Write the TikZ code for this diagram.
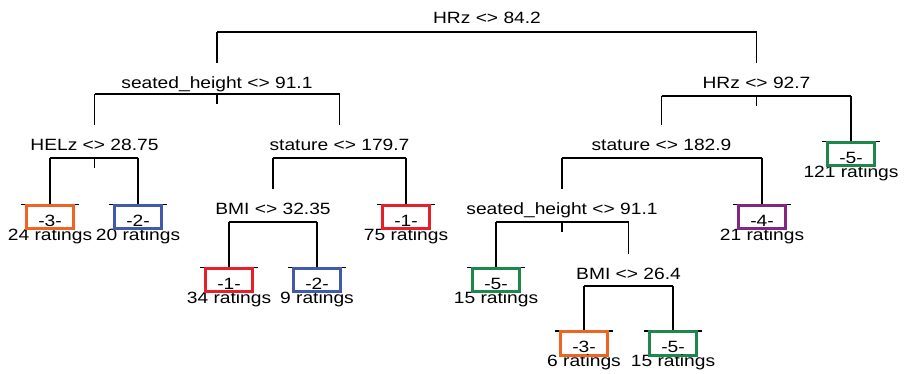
\documentclass[tikz,border=0pt]{standalone}
\usepackage{fontspec}
\setmainfont{Liberation Sans}
\definecolor{clsorange}{RGB}{240,100,35}
\definecolor{clsblue}{RGB}{65,90,170}
\definecolor{clsred}{RGB}{232,30,40}
\definecolor{clsgreen}{RGB}{30,135,75}
\definecolor{clspurple}{RGB}{130,40,130}
% text is set slightly flattened
\newcommand\squash[1]{\scalebox{1}[0.85]{#1}}
\tikzset{
  edge/.style={line width=1.2pt, line cap=butt},
  splitlabel/.style={anchor=base, inner sep=0pt, font=\fontsize{19.2}{22}\selectfont},
  leafbox/.style={draw, line width=2pt, minimum width=46pt, minimum height=22.5pt,
                  anchor=north, inner sep=0pt},
}
% leaf: name, x, tick y, class text, colour, count text
\newcommand\treeleaf[6]{%
  \coordinate (#1) at (#2,#3);
  \draw[edge] ([xshift=-29pt]#1) -- ([xshift=29pt]#1);
  \node[leafbox, draw=#5] (#1-box) at (#1) {};
  \node[splitlabel] (#1-cls) at ([yshift=-21.5pt]#1) {\squash{#4}};
  \node[splitlabel] (#1-n) at ([yshift=-35.5pt]#1) {\squash{#6}};
}
% split: name, x, baseline y, bar y, text
\newcommand\treesplit[5]{%
  \node[splitlabel] (#1) at (#2,#3) {\squash{#5}};
  \coordinate (#1-top) at (#2,#3-25);
  \coordinate (#1-bar) at (#2,#4);
}
\begin{document}
\begin{tikzpicture}[x=1pt,y=-1pt]
\useasboundingbox (0,0) rectangle (905,373);
\fill[white] (0,0) rectangle (905,373);

% split nodes
\treesplit{root}{487}{23}{32}{HRz <> 84.2}
\treesplit{A}{217}{88}{94}{seated\_height <> 91.1}
\treesplit{B}{756.5}{88}{96}{HRz <> 92.7}
\treesplit{C}{94.5}{150}{158}{HELz <> 28.75}
\treesplit{D}{339.5}{150}{158}{stature <> 179.7}
\treesplit{E}{661.5}{150}{158}{stature <> 182.9}
\treesplit{F}{273}{214}{222}{BMI <> 32.35}
\treesplit{G}{562}{214}{222}{seated\_height <> 91.1}
\treesplit{H}{628.5}{279}{286}{BMI <> 26.4}

% leaves
\treeleaf{L3a}{50}{204.5}{-3-}{clsorange}{24 ratings}
\treeleaf{L2a}{138}{204.5}{-2-}{clsblue}{20 ratings}
\treeleaf{L1a}{406}{204.5}{-1-}{clsred}{75 ratings}
\treeleaf{L5a}{851}{141.7}{-5-}{clsgreen}{121 ratings}
\treeleaf{L1b}{229}{267.7}{-1-}{clsred}{34 ratings}
\treeleaf{L2b}{317}{267.7}{-2-}{clsblue}{9 ratings}
\treeleaf{L4}{762}{204.5}{-4-}{clspurple}{21 ratings}
\treeleaf{L5b}{496}{267.7}{-5-}{clsgreen}{15 ratings}
\treeleaf{L3b}{584}{331}{-3-}{clsorange}{6 ratings}
\treeleaf{L5c}{673}{331}{-5-}{clsgreen}{15 ratings}

% bars joining the two branches of every split
\draw[edge] (A-top |- root-bar) -- (B-top |- root-bar);
\draw[edge] (C-top |- A-bar) -- (D-top |- A-bar);
\draw[edge] (E-top |- B-bar) -- (L5a |- B-bar);
\draw[edge] (L3a |- C-bar) -- (L2a |- C-bar);
\draw[edge] (F-top |- D-bar) -- (L1a |- D-bar);
\draw[edge] (G-top |- E-bar) -- (L4 |- E-bar);
\draw[edge] (L1b |- F-bar) -- (L2b |- F-bar);
\draw[edge] (L5b |- G-bar) -- (H-top |- G-bar);
\draw[edge] (L3b |- H-bar) -- (L5c |- H-bar);

% short stubs under some bars
\foreach \s in {A,B,C,G} \draw[edge] (\s-bar) -- ++(0,10);

% drops from each bar to the child below
\draw[edge] (A-top |- root-bar) -- (A-top);
\draw[edge] (B-top |- root-bar) -- (B-top);
\draw[edge] (C-top |- A-bar) -- (C-top);
\draw[edge] (D-top |- A-bar) -- (D-top);
\draw[edge] (E-top |- B-bar) -- (E-top);
\draw[edge] (L5a |- B-bar) -- (L5a);
\draw[edge] (L3a |- C-bar) -- (L3a);
\draw[edge] (L2a |- C-bar) -- (L2a);
\draw[edge] (F-top |- D-bar) -- (F-top);
\draw[edge] (L1a |- D-bar) -- (L1a);
\draw[edge] (G-top |- E-bar) -- (G-top);
\draw[edge] (L4 |- E-bar) -- (L4);
\draw[edge] (L1b |- F-bar) -- (L1b);
\draw[edge] (L2b |- F-bar) -- (L2b);
\draw[edge] (L5b |- G-bar) -- (L5b);
\draw[edge] (H-top |- G-bar) -- (H-top);
\draw[edge] (L3b |- H-bar) -- (L3b);
\draw[edge] (L5c |- H-bar) -- (L5c);

% leaf boxes redrawn over the ticks
\foreach \l/\c in {L3a/clsorange,L2a/clsblue,L1a/clsred,L5a/clsgreen,L1b/clsred,
                   L2b/clsblue,L4/clspurple,L5b/clsgreen,L3b/clsorange,L5c/clsgreen}
  \draw[line width=2pt, draw=\c] (\l-box.north west) rectangle (\l-box.south east);
\end{tikzpicture}
\end{document}
